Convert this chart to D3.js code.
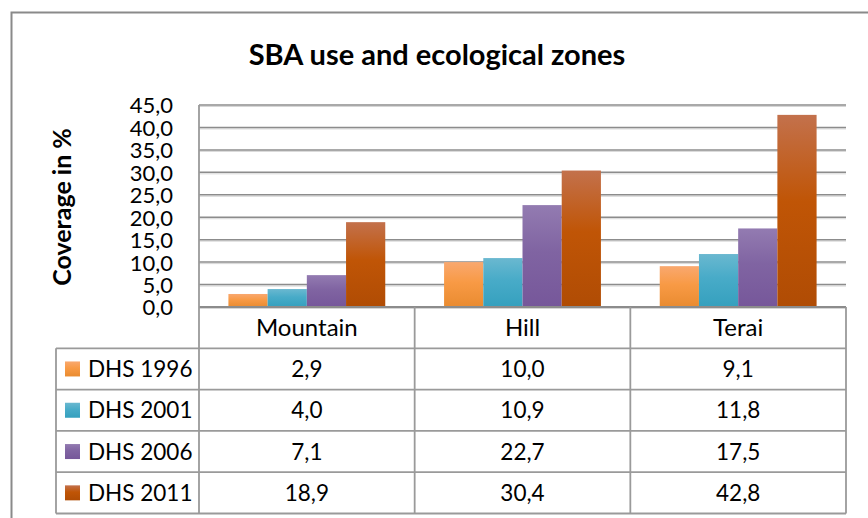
<!DOCTYPE html>
<html>
<head>
<meta charset="utf-8">
<script src="https://cdn.jsdelivr.net/npm/d3@7"></script>
<style>
  body { margin: 0; background: #fff; }
  text { font-family: Lato, "Liberation Sans", sans-serif; fill: #000; }
</style>
</head>
<body>
<div id="container"></div>
<script>
// Chart data
var categories = ["Mountain", "Hill", "Terai"];
var seriesNames = ["DHS 1996", "DHS 2001", "DHS 2006", "DHS 2011"];
var dhs1996 = [2.9, 10.0, 9.1];
var dhs2001 = [4.0, 10.9, 11.8];
var dhs2006 = [7.1, 22.7, 17.5];
var dhs2011 = [18.9, 30.4, 42.8];
var yTicks = [0, 5, 10, 15, 20, 25, 30, 35, 40, 45];

var seriesValues = [dhs1996, dhs2001, dhs2006, dhs2011];

// Colours: [top, middle, bottom] of each bar gradient
var colors = [
  ["#f9a86f", "#f89a45", "#e98b30"],
  ["#6ab8d0", "#48abc8", "#35a0be"],
  ["#937bb1", "#8064a2", "#76579a"],
  ["#c3714c", "#c05506", "#b04c04"]
];

var width = 868,
    height = 518;

var plotLeft = 199, plotRight = 846,
    plotTop = 105, plotBottom = 307,
    rowH = 41.3,
    legendLeft = 56;

var fmt = function(v) { return d3.format(".1f")(v).replace(".", ","); };

var svg = d3.select("#container")
            .append("svg")
              .attr("width", width)
              .attr("height", height);

// Gradients for the bars
var defs = svg.append("defs");
colors.forEach(function(c, i) {
  var g = defs.append("linearGradient")
              .attr("id", "grad" + i)
              .attr("x1", 0).attr("y1", 0)
              .attr("x2", 0).attr("y2", 1);
  g.append("stop").attr("offset", "0%").attr("stop-color", c[0]);
  g.append("stop").attr("offset", "45%").attr("stop-color", c[1]);
  g.append("stop").attr("offset", "100%").attr("stop-color", c[2]);
});

// Outer chart border (only left and top visible)
svg.append("path")
    .attr("d", "M11.5," + height + "V12.5H" + width)
    .attr("fill", "none")
    .attr("stroke", "#8a8a8a")
    .attr("stroke-width", 2);

// Title
svg.append("text")
    .attr("x", 437)
    .attr("y", 65)
    .attr("text-anchor", "middle")
    .style("font-size", "29px")
    .style("font-weight", "bold")
    .text("SBA use and ecological zones");

// Scales
var x0 = d3.scaleBand()
           .domain(categories)
           .range([plotLeft, plotRight]);

var x1 = d3.scaleBand()
           .domain(seriesNames)
           .range([0, x0.bandwidth()])
           .paddingOuter(0.75)
           .paddingInner(0);

var y = d3.scaleLinear()
          .domain([0, 45])
          .range([plotBottom, plotTop]);

// Gridlines
var grid = svg.append("g");
grid.selectAll("line.shadow")
    .data(yTicks)
    .enter()
    .append("line")
      .attr("class", "shadow")
      .attr("x1", plotLeft).attr("x2", plotRight)
      .attr("y1", function(d) { return y(d) + 1.5; })
      .attr("y2", function(d) { return y(d) + 1.5; })
      .attr("stroke", "#d6d6d6")
      .attr("stroke-width", 1);
grid.selectAll("line.main")
    .data(yTicks)
    .enter()
    .append("line")
      .attr("class", "main")
      .attr("x1", plotLeft).attr("x2", plotRight)
      .attr("y1", function(d) { return y(d); })
      .attr("y2", function(d) { return y(d); })
      .attr("stroke", "#8c8c8c")
      .attr("stroke-width", 1.5);

// Y axis tick labels
var yAxis = d3.axisLeft(y)
              .tickValues(yTicks)
              .tickFormat(fmt)
              .tickSize(0)
              .tickPadding(26);

var yg = svg.append("g")
            .attr("transform", "translate(" + plotLeft + ",0)")
            .call(yAxis);
yg.select(".domain").remove();
yg.selectAll("text")
    .style("font-size", "22px")
    .style("font-family", "Lato, 'Liberation Sans', sans-serif")
    .attr("dy", "0.36em");

// Y axis title
svg.append("text")
    .attr("transform", "translate(71,207) rotate(-90)")
    .attr("text-anchor", "middle")
    .style("font-size", "25px")
    .style("font-weight", "bold")
    .text("Coverage in %");

// Bars
var groups = svg.selectAll("g.cat")
                .data(categories)
                .enter()
                .append("g")
                  .attr("class", "cat")
                  .attr("transform", function(d) { return "translate(" + x0(d) + ",0)"; });

groups.selectAll("rect")
    .data(function(d, ci) {
      return seriesNames.map(function(s, si) {
        return { series: s, index: si, value: seriesValues[si][ci] };
      });
    })
    .enter()
    .append("rect")
      .attr("x", function(d) { return x1(d.series); })
      .attr("width", x1.bandwidth())
      .attr("y", function(d) { return y(d.value); })
      .attr("height", function(d) { return plotBottom - y(d.value); })
      .attr("fill", function(d) { return "url(#grad" + d.index + ")"; });

// Data table
var table = svg.append("g");
var lineColor = "#9a9a9a";
var tableBottom = plotBottom + rowH * (seriesNames.length + 1);

// horizontal lines
d3.range(seriesNames.length + 2).forEach(function(r) {
  var yy = plotBottom + rowH * r;
  table.append("line")
      .attr("x1", r === 0 ? plotLeft : legendLeft)
      .attr("x2", plotRight)
      .attr("y1", yy).attr("y2", yy)
      .attr("stroke", r === 0 ? "#8c8c8c" : lineColor)
      .attr("stroke-width", r === 0 ? 2 : 1.8);
});

// vertical lines
table.append("line")
    .attr("x1", legendLeft).attr("x2", legendLeft)
    .attr("y1", plotBottom + rowH).attr("y2", tableBottom)
    .attr("stroke", lineColor).attr("stroke-width", 1.8);
table.append("line")
    .attr("x1", plotLeft).attr("x2", plotLeft)
    .attr("y1", plotTop).attr("y2", tableBottom)
    .attr("stroke", lineColor).attr("stroke-width", 1.8);
categories.forEach(function(c) {
  var xx = x0(c) + x0.bandwidth();
  table.append("line")
      .attr("x1", xx).attr("x2", xx)
      .attr("y1", plotBottom).attr("y2", tableBottom)
      .attr("stroke", lineColor).attr("stroke-width", 1.8);
});

// category header labels
table.selectAll("text.cat")
    .data(categories)
    .enter()
    .append("text")
      .attr("class", "cat")
      .attr("x", function(d) { return x0(d) + x0.bandwidth() / 2; })
      .attr("y", plotBottom + rowH / 2)
      .attr("dy", "0.36em")
      .attr("text-anchor", "middle")
      .style("font-size", "24px")
      .text(function(d) { return d; });

// legend column and values
seriesNames.forEach(function(s, si) {
  var cy = plotBottom + rowH * (si + 1) + rowH / 2;
  table.append("rect")
      .attr("x", 65)
      .attr("y", cy - 7.5)
      .attr("width", 15)
      .attr("height", 15)
      .attr("fill", "url(#grad" + si + ")");
  table.append("text")
      .attr("x", 88)
      .attr("y", cy)
      .attr("dy", "0.36em")
      .style("font-size", "22.5px")
      .text(s);

  categories.forEach(function(c, ci) {
    table.append("text")
        .attr("x", x0(c) + x0.bandwidth() / 2)
        .attr("y", cy)
        .attr("dy", "0.36em")
        .attr("text-anchor", "middle")
        .style("font-size", "22.5px")
        .text(fmt(seriesValues[si][ci]));
  });
});
</script>
</body>
</html>
